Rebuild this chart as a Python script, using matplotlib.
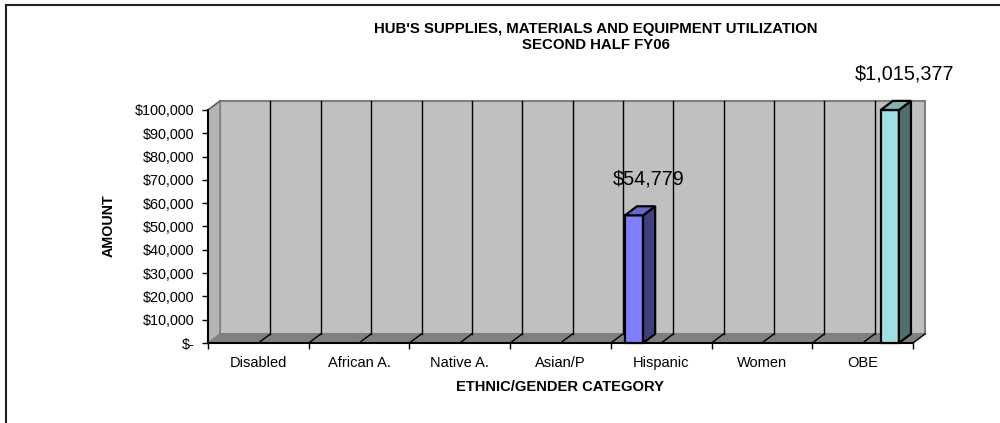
import matplotlib
matplotlib.use('Agg')
import matplotlib.pyplot as plt
from matplotlib.patches import Polygon
from matplotlib.lines import Line2D
from matplotlib.ticker import FuncFormatter, MultipleLocator

plt.rcParams['font.family'] = ['Liberation Sans', 'DejaVu Sans']

categories = ['Disabled', 'African A.', 'Native A.', 'Asian/P', 'Hispanic', 'Women', 'OBE']
# four series in the cluster, only two carry values
series_1 = [0, 0, 0, 0, 54779, 0, 0]
series_2 = [0, 0, 0, 0, 0, 0, 0]
series_3 = [0, 0, 0, 0, 0, 0, 0]
series_4 = [0, 0, 0, 0, 0, 0, 1015377]
y_max = 100000

series = [series_1, series_2, series_3, series_4]
# front, side, top colours per series
colors = [('#8080ff', '#404080', '#6666cc'),
          ('#993366', '#4d1a33', '#7a2952'),
          ('#ffffcc', '#808066', '#ccccA3'),
          ('#a0e0e0', '#507070', '#80b3b3')]

fig = plt.figure(figsize=(10, 4.23), dpi=100)
ax = fig.add_axes([0.208, 80 / 423, 0.705, 233 / 423])
ax.set_xlim(0, len(categories))
ax.set_ylim(0, y_max)
ax.patch.set_visible(False)

n = len(categories)
dx = 0.12        # depth offset, category units
dy = 3900        # depth offset, value units

# back wall, side wall, floor
ax.add_patch(Polygon([(dx, dy), (n + dx, dy), (n + dx, y_max + dy), (dx, y_max + dy)],
                     closed=True, fc='#c0c0c0', ec='#808080', lw=1.5, clip_on=False, zorder=1))
ax.add_patch(Polygon([(0, 0), (dx, dy), (dx, y_max + dy), (0, y_max)],
                     closed=True, fc='#b4b4b4', ec='#808080', lw=1.2, clip_on=False, zorder=1))
ax.add_patch(Polygon([(0, 0), (n, 0), (n + dx, dy), (dx, dy)],
                     closed=True, fc='#808080', ec='none', clip_on=False, zorder=1.1))

# half-category grid on the wall and floor
for k in range(1, 2 * n):
    gx = k * 0.5
    ax.plot([gx + dx, gx + dx], [dy, y_max + dy], color='black', lw=1, clip_on=False, zorder=1.2)
    ax.plot([gx, gx + dx], [0, dy], color='black', lw=1, clip_on=False, zorder=1.2)
ax.plot([n, n + dx], [0, dy], color='black', lw=1, clip_on=False, zorder=1.2)
ax.plot([0, dx], [y_max, y_max + dy], color='#606060', lw=1, clip_on=False, zorder=1.2)

# 3D columns
w = 0.18
gap = 1 - len(series) * w
for s, vals in enumerate(series):
    front, side, top = colors[s]
    for i, v in enumerate(vals):
        if v <= 0:
            continue
        x0 = i + gap / 2 + s * w
        h = min(v, y_max)
        ax.add_patch(Polygon([(x0, 0), (x0 + w, 0), (x0 + w, h), (x0, h)], closed=True,
                             fc=front, ec='black', lw=1.6, clip_on=False, zorder=3, joinstyle='miter'))
        ax.add_patch(Polygon([(x0 + w, 0), (x0 + w + dx, dy), (x0 + w + dx, h + dy), (x0 + w, h)],
                             closed=True, fc=side, ec='black', lw=1.6, clip_on=False, zorder=3))
        ax.add_patch(Polygon([(x0, h), (x0 + w, h), (x0 + w + dx, h + dy), (x0 + dx, h + dy)],
                             closed=True, fc=top, ec='black', lw=1.6, clip_on=False, zorder=3))
        ax.annotate(f'${v:,.0f}', xy=(x0 + w / 2, h), xytext=(15, 36), textcoords='offset pixels',
                    ha='center', va='center', fontsize=14.3, zorder=4, annotation_clip=False)

for side_name in ['top', 'right']:
    ax.spines[side_name].set_visible(False)
for side_name in ['left', 'bottom']:
    ax.spines[side_name].set_color('black')
    ax.spines[side_name].set_linewidth(1.5)
    ax.spines[side_name].set_zorder(2.5)

ax.yaxis.set_major_locator(MultipleLocator(10000))
ax.yaxis.set_major_formatter(FuncFormatter(lambda v, p: '$-' if v == 0 else f'${v:,.0f}'))
ax.tick_params(axis='y', direction='out', length=4, width=1, pad=6, labelsize=10.4)

ax.set_xticks(range(n + 1))
ax.set_xticklabels([])
ax.set_xticks([i + 0.5 for i in range(n)], minor=True)
ax.set_xticklabels(categories, minor=True)
ax.tick_params(axis='x', which='major', direction='out', length=4, width=1)
ax.tick_params(axis='x', which='minor', length=0, pad=9, labelsize=10.5)

fig.text(0.596, 1 - 29 / 423, "HUB'S SUPPLIES, MATERIALS AND EQUIPMENT UTILIZATION",
         ha='center', va='center', fontsize=10.8, fontweight='bold')
fig.text(0.596, 1 - 45 / 423, 'SECOND HALF FY06',
         ha='center', va='center', fontsize=10.8, fontweight='bold')
fig.text(0.109, 1 - 226 / 423, 'AMOUNT', rotation=90, ha='center', va='center',
         fontsize=10.3, fontweight='bold')
fig.text(0.560, 1 - 387 / 423, 'ETHNIC/GENDER CATEGORY', ha='center', va='center',
         fontsize=10.6, fontweight='bold')

# chart area frame (cropped, only top and left edges show)
fig.add_artist(Line2D([6 / 1000, 1], [1 - 5 / 423, 1 - 5 / 423], color='#202020', lw=1.5))
fig.add_artist(Line2D([6 / 1000, 6 / 1000], [0, 1 - 5 / 423], color='#202020', lw=1.5))

fig.savefig('out.png', dpi=100)
